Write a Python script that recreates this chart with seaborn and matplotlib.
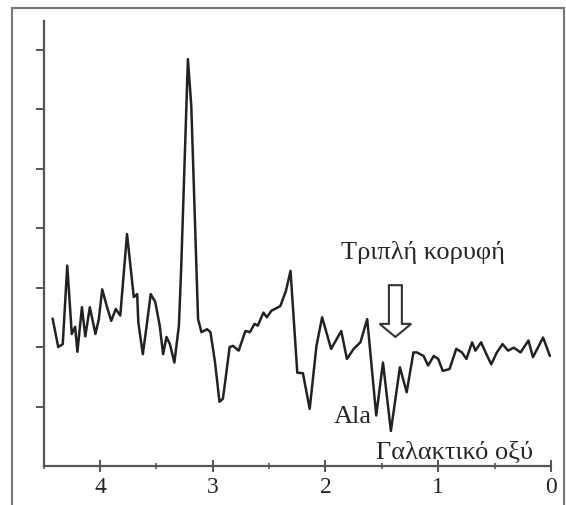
import pandas as pd
import seaborn as sns
import matplotlib.pyplot as plt
from matplotlib.patches import FancyArrow, Rectangle

# chemical shift (ppm) and signal intensity
ppm = [4.42, 4.37, 4.33, 4.29, 4.25, 4.22, 4.20, 4.16, 4.13, 4.09,
       4.04, 4.01, 3.98, 3.94, 3.90, 3.86, 3.82, 3.76, 3.70, 3.67,
       3.66, 3.62, 3.59, 3.55, 3.51, 3.47, 3.44, 3.41, 3.38, 3.34,
       3.30, 3.28, 3.22, 3.19, 3.13, 3.10, 3.05, 3.02, 2.98, 2.94,
       2.91, 2.89, 2.85, 2.82, 2.77, 2.71, 2.67, 2.63, 2.60, 2.55,
       2.52, 2.48, 2.40, 2.35, 2.31, 2.25, 2.20, 2.14, 2.08, 2.03,
       1.95, 1.86, 1.81, 1.75, 1.69, 1.63, 1.55, 1.49, 1.42, 1.34,
       1.28, 1.22, 1.19, 1.13, 1.09, 1.04, 1.00, 0.96, 0.90, 0.84,
       0.79, 0.75, 0.70, 0.67, 0.62, 0.58, 0.53, 0.48, 0.43, 0.38,
       0.33, 0.27, 0.20, 0.16, 0.13, 0.07, 0.01]
intensity = [2.48, 2.00, 2.05, 3.37, 2.22, 2.34, 1.92, 2.67, 2.18, 2.67,
             2.22, 2.47, 2.97, 2.69, 2.44, 2.64, 2.53, 3.90, 2.84, 2.89,
             2.42, 1.88, 2.30, 2.89, 2.76, 2.36, 1.88, 2.17, 2.05, 1.74,
             2.36, 3.31, 6.84, 6.05, 2.47, 2.25, 2.30, 2.25, 1.75, 1.08,
             1.13, 1.41, 2.00, 2.02, 1.94, 2.27, 2.25, 2.39, 2.36, 2.58,
             2.50, 2.61, 2.69, 2.95, 3.28, 1.57, 1.56, 0.96, 2.02, 2.50,
             1.97, 2.27, 1.80, 1.97, 2.08, 2.47, 0.85, 1.74, 0.59, 1.66,
             1.24, 1.91, 1.91, 1.85, 1.69, 1.85, 1.80, 1.60, 1.63, 1.97,
             1.91, 1.80, 2.08, 1.94, 2.08, 1.91, 1.71, 1.91, 2.05, 1.94,
             1.99, 1.91, 2.11, 1.83, 1.94, 2.16, 1.85]

peak_label = "Τριπλή κορυφή"
ala_label = "Ala"
lactate_label = "Γαλακτικό οξύ"

df = pd.DataFrame({"ppm": ppm, "intensity": intensity})

sns.set_style("white")
plt.rcParams['font.family'] = ['Liberation Serif', 'DejaVu Serif']

fig = plt.figure(figsize=(5.66, 5.06), dpi=100)
ax = fig.add_axes([0.077, 0.077, 0.8965, 0.8794])

sns.lineplot(data=df, x="ppm", y="intensity", ax=ax, color="#222222",
             linewidth=1.8, sort=False, estimator=None)

ax.set_xlim(4.5, 0)
ax.set_ylim(0, 7.48)
ax.set_xlabel("")
ax.set_ylabel("")

for s in ["top", "right"]:
    ax.spines[s].set_visible(False)
for s in ["left", "bottom"]:
    ax.spines[s].set_color("#555555")
    ax.spines[s].set_linewidth(1.6)

ax.set_xticks([4, 3, 2, 1, 0])
ax.set_xticks([4.5, 3.5, 2.5, 1.5, 0.5], minor=True)
ax.set_yticks([1, 2, 3, 4, 5, 6, 7])
ax.set_yticklabels([])
ax.tick_params(axis="x", which="major", direction="inout", length=9, width=1.4,
               color="#555555", labelsize=17, pad=3)
ax.tick_params(axis="x", which="minor", direction="inout", length=5, width=1.2,
               color="#555555")
ax.tick_params(axis="y", which="major", direction="out", length=6, width=1.4,
               color="#555555", left=True)
ax.tick_params(axis="x", bottom=True, which="both")

ax.text(1.135, 3.60, peak_label, ha="center", va="center", fontsize=19)
ax.add_patch(FancyArrow(1.38, 3.04, 0, -0.87, width=0.115, head_width=0.28,
                        head_length=0.22, length_includes_head=True,
                        facecolor="white", edgecolor="#333333", linewidth=1.5))
ax.text(1.76, 0.84, ala_label, ha="center", va="center", fontsize=19)
ax.text(0.86, 0.25, lactate_label, ha="center", va="center", fontsize=19)

# outer frame of the picture
fig.patches.append(Rectangle((12 / 566, -0.01), 552 / 566, 1 - 9 / 506 + 0.01,
                             transform=fig.transFigure, fill=False,
                             edgecolor="#777777", linewidth=1.5))

fig.savefig("out.png", dpi=100)
